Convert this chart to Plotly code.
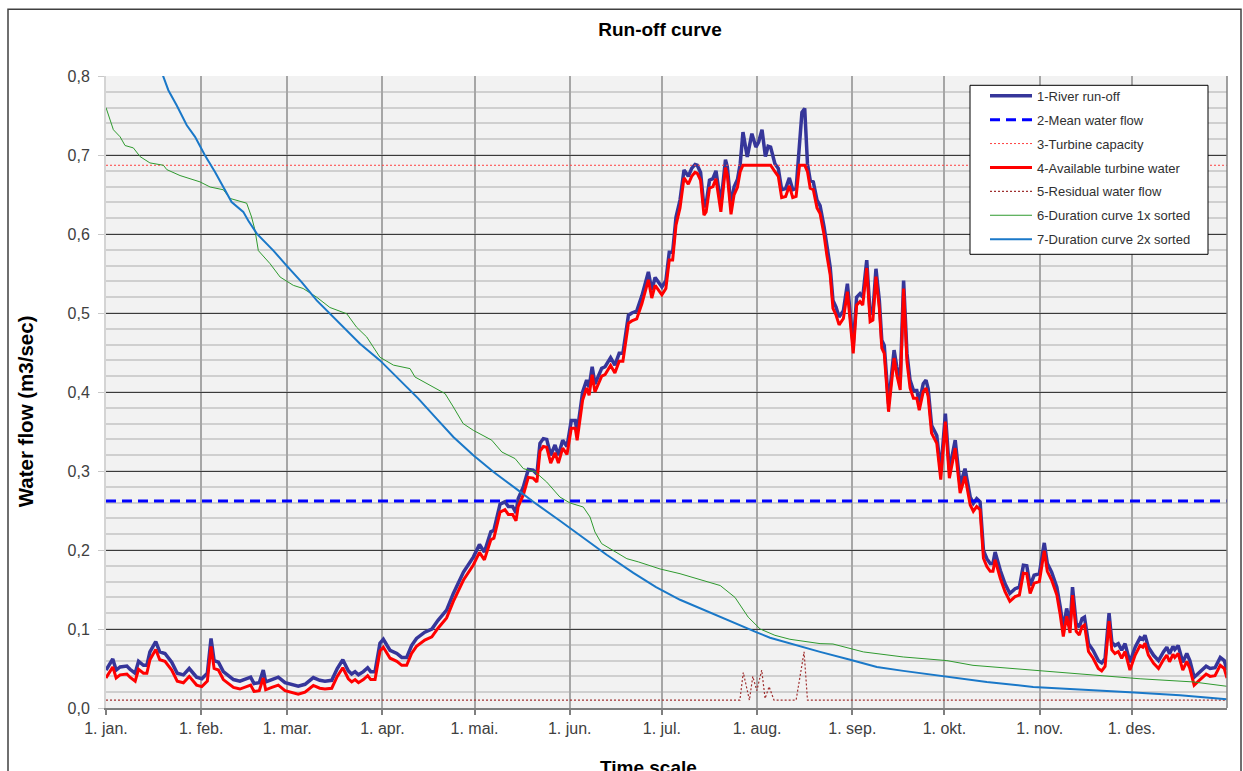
import numpy as np
import plotly.graph_objects as go

# ---- data -------------------------------------------------------------
# day of year (0 = 1 January) and daily river run-off in m3/sec
RUNOFF_DAY = [
    0, 2.2, 3.3, 4.6, 6.8, 7.8, 9.5, 10.6, 12.2, 13.3, 14.3, 16.2, 17.5, 19.2, 21.4,
    23.2, 25.2, 27.1, 29.5, 31.2, 33.0, 34.2, 35.2, 36.6, 38.2, 39.9, 41.5, 43.6, 45.2,
    47.1, 48.2, 49.9, 51.2, 52.0, 54.0, 56.1, 58.3, 60.5, 62.6, 64.8, 67.5, 69.6, 71.3,
    73.5, 75.3, 77.1, 78.9, 80.0, 81.1, 82.2, 83.8, 85.2, 86.2, 87.6, 89.2, 90.3, 92.5,
    94.7, 96.3, 97.9, 99.5, 101.1, 103.8, 106.1, 108.1, 110.9, 113.1, 116.4, 119.6,
    121.6, 123.2, 125.3, 126.3, 128.3, 129.9, 131.0, 132.4, 133.5, 134.2, 135.9, 137.5,
    139.1, 140.3, 141.3, 142.4, 143.5, 144.8, 146.2, 147.3, 148.7, 150.1, 151.5, 152.8,
    153.4, 155.2, 156.5, 157.3, 158.3, 159.2, 161.4, 162.5, 164.3, 165.7, 167.1, 168.3,
    170.1, 171.2, 172.8, 174.5, 176.6, 177.7, 178.8, 181.0, 182.3, 183.4, 184.5, 185.6,
    186.9, 188.2, 189.6, 190.7, 191.8, 192.5, 193.6, 194.7, 195.4, 196.5, 197.6, 198.6,
    200.2, 201.7, 202.3, 203.5, 204.5, 205.6, 206.5, 207.4, 208.8, 210.3, 211.6, 212.5,
    213.6, 214.7, 215.6, 216.4, 217.8, 218.9, 220.0, 221.3, 222.5, 223.6, 224.7, 225.8,
    226.6, 227.5, 228.4, 229.3, 230.3, 231.5, 232.5, 233.8, 234.7, 235.8, 236.7, 237.7,
    238.7, 240.1, 241.4, 242.5, 243.3, 244.4, 245.5, 246.4, 247.7, 248.8, 249.7, 250.7,
    251.8, 252.6, 253.4, 254.8, 256.6, 257.5, 258.6, 259.7, 260.8, 261.8, 262.9, 264.0,
    264.8, 266.1, 267.0, 267.7, 268.8, 270.5, 271.8, 273.3, 274.6, 276.5, 278.1, 279.7,
    281.4, 282.4, 283.5, 284.6, 285.7, 286.8, 287.9, 288.8, 289.5, 291.2, 292.7, 294.3,
    296.0, 297.4, 298.7, 299.8, 300.9, 302.2, 303.9, 305.5, 306.5, 307.9, 309.6, 310.7,
    311.7, 312.8, 313.9, 314.7, 315.9, 316.9, 317.8, 318.6, 319.9, 321.4, 323.1, 324.2,
    325.3, 326.6, 327.5, 328.5, 329.6, 330.7, 331.8, 333.4, 335.1, 336.7, 337.6, 338.3,
    339.4, 341.1, 342.7, 344.3, 345.4, 346.3, 347.4, 348.0, 349.1, 350.6, 351.9, 352.9,
    354.3, 355.7, 358.2, 359.5, 361.1, 362.8, 364.1, 365.0,
]
RUNOFF_FLOW = [
    0.048, 0.062, 0.048, 0.052, 0.053, 0.049, 0.044, 0.059, 0.054, 0.054, 0.071, 0.084, 0.071, 0.069, 0.058,
    0.044, 0.042, 0.050, 0.039, 0.037, 0.044, 0.088, 0.060, 0.058, 0.046, 0.041, 0.036, 0.034, 0.036,
    0.039, 0.031, 0.032, 0.048, 0.033, 0.036, 0.039, 0.032, 0.030, 0.0275, 0.030, 0.0385, 0.035, 0.034,
    0.035, 0.050, 0.061, 0.047, 0.043, 0.046, 0.042, 0.046, 0.051, 0.046, 0.046, 0.082, 0.087, 0.073,
    0.069, 0.064, 0.064, 0.079, 0.088, 0.096, 0.100, 0.111, 0.124, 0.145, 0.172, 0.191,
    0.207, 0.1975, 0.223, 0.225, 0.258, 0.261, 0.255, 0.255, 0.247, 0.265, 0.280, 0.302,
    0.301, 0.296, 0.335, 0.341, 0.340, 0.320, 0.333, 0.320, 0.339, 0.331, 0.364, 0.364,
    0.349, 0.400, 0.415, 0.406, 0.432, 0.410, 0.430, 0.432, 0.4435, 0.434, 0.449, 0.449,
    0.497, 0.500, 0.5025, 0.522, 0.552, 0.529, 0.545, 0.533, 0.541, 0.577, 0.577, 0.6215,
    0.643, 0.681, 0.673, 0.683, 0.688, 0.687, 0.678, 0.634, 0.638, 0.668, 0.670, 0.680,
    0.638, 0.694, 0.685, 0.635, 0.6595, 0.669, 0.689, 0.729, 0.6975, 0.727, 0.710, 0.7165,
    0.732, 0.698, 0.711, 0.710, 0.689, 0.683, 0.656, 0.6575, 0.671, 0.656, 0.6575, 0.723,
    0.754, 0.759, 0.689, 0.668, 0.666, 0.643, 0.636, 0.609, 0.5835, 0.558, 0.516, 0.5075,
    0.495, 0.503, 0.537, 0.4865, 0.459, 0.520, 0.5245, 0.520, 0.567, 0.499, 0.501, 0.556,
    0.516, 0.4655, 0.459, 0.385, 0.453, 0.4315, 0.4125, 0.541, 0.4485, 0.415, 0.402, 0.402,
    0.387, 0.4105, 0.415, 0.404, 0.358, 0.345, 0.299, 0.3725, 0.301, 0.339, 0.282, 0.303,
    0.267, 0.259, 0.265, 0.261, 0.1996, 0.189, 0.183, 0.183, 0.1975, 0.174, 0.1575, 0.145,
    0.151, 0.153, 0.1806, 0.180, 0.155, 0.168, 0.170, 0.209, 0.183, 0.172, 0.153, 0.128,
    0.1005, 0.126, 0.105, 0.153, 0.107, 0.1025, 0.113, 0.115, 0.0815, 0.073, 0.060, 0.057,
    0.0625, 0.120, 0.0835, 0.079, 0.0815, 0.073, 0.0815, 0.058, 0.077, 0.089, 0.087, 0.092,
    0.077, 0.0667, 0.060, 0.071, 0.077, 0.0685, 0.078, 0.074, 0.079, 0.058, 0.069, 0.060,
    0.039, 0.044, 0.053, 0.050, 0.051, 0.064, 0.060, 0.048,
]

MEAN_FLOW = 0.262          # m3/sec
TURBINE_CAPACITY = 0.687   # m3/sec
RESIDUAL_BASE = 0.01       # m3/sec kept in the river

RESIDUAL_DAY = [0, 206.4, 207.5, 209.5, 210.6, 211.9, 213.5, 214.6, 215.9, 217.5,
                224.7, 227.3, 228.4, 365]
RESIDUAL_FLOW = [0.01, 0.01, 0.045, 0.01, 0.040, 0.022, 0.048, 0.012, 0.027, 0.01,
                 0.01, 0.071, 0.01, 0.01]

DUR1_DAY = [0, 2.4, 4.6, 6.2, 8.9, 11.1, 14.3, 18.7, 19.8, 24.1, 30.6, 33.9, 38.2, 40.4,
            45.8, 47.4, 48.5, 49.6, 53.4, 56.7, 61.0, 64.2, 68.6, 72.9, 78.4, 81.6, 84.9,
            89.2, 93.6, 99.0, 100.6, 105.5, 108.8, 110.4, 113.1, 116.3, 119.6, 125.6,
            128.9, 133.2, 135.9, 139.7, 143.5, 147.8, 151.1, 155.4, 157.6, 159.2, 161.4,
            165.2, 169.6, 173.3, 180.4, 186.9, 193.4, 200.0, 204.8, 209.1, 213.0, 217.8,
            222.7, 232.5, 236.7, 246.6, 259.6, 273.8, 282.3, 301.9, 323.7, 336.7, 354.0,
            364.9]
DUR1_FLOW = [0.760, 0.732, 0.723, 0.712, 0.709, 0.698, 0.690, 0.687, 0.6815, 0.674,
             0.666, 0.6595, 0.656, 0.645, 0.639, 0.6215, 0.605, 0.579, 0.5625, 0.5455,
             0.535, 0.531, 0.520, 0.507, 0.499, 0.482, 0.4696, 0.444, 0.434, 0.4296,
             0.419, 0.4085, 0.402, 0.398, 0.381, 0.360, 0.3515, 0.339, 0.324, 0.3157,
             0.303, 0.299, 0.286, 0.267, 0.2595, 0.2544, 0.2418, 0.2228, 0.208, 0.1996,
             0.189, 0.185, 0.176, 0.170, 0.163, 0.155, 0.140, 0.115, 0.100, 0.092, 0.087,
             0.0815, 0.081, 0.071, 0.0646, 0.060, 0.054, 0.0477, 0.0414, 0.037, 0.033,
             0.0275]

DUR2_DAY = [18.5, 20.3, 23.0, 26.3, 29.0, 32.2, 35.5, 38.7, 40.9, 44.7, 46.3, 49.1, 54.5,
            58.8, 63.7, 68.6, 76.2, 82.7, 89.2, 93.6, 101.7, 107.7, 113.1, 119.6, 126.1,
            133.7, 140.2, 147.8, 156.5, 163.0, 171.7, 179.1, 186.9, 193.4, 200.0, 206.5,
            211.7, 216.2, 226.0, 232.5, 242.3, 251.0, 259.6, 272.7, 286.8, 301.9, 319.3,
            333.4, 349.7, 364.9]
DUR2_FLOW = [0.801, 0.782, 0.763, 0.7376, 0.723, 0.6996, 0.6785, 0.655, 0.6405, 0.628,
             0.617, 0.6005, 0.579, 0.560, 0.539, 0.516, 0.4866, 0.461, 0.440, 0.423,
             0.3916, 0.366, 0.343, 0.320, 0.299, 0.277, 0.258, 0.237, 0.212, 0.194,
             0.171, 0.153, 0.137, 0.126, 0.115, 0.104, 0.096, 0.089, 0.078, 0.071, 0.061,
             0.052, 0.047, 0.040, 0.033, 0.0266, 0.0233, 0.020, 0.016, 0.011]

MONTH_START_DAY = [0, 31, 59, 90, 120, 151, 181, 212, 243, 273, 304, 334]
MONTH_LABELS = ["1. jan.", "1. feb.", "1. mar.", "1. apr.", "1. mai.", "1. jun.",
                "1. jul.", "1. aug.", "1. sep.", "1. okt.", "1. nov.", "1. des."]
Y_TICKS = [0.0, 0.1, 0.2, 0.3, 0.4, 0.5, 0.6, 0.7, 0.8]
Y_LABELS = ["0,0", "0,1", "0,2", "0,3", "0,4", "0,5", "0,6", "0,7", "0,8"]

# water available for the turbine: run-off minus residual flow, limited by capacity
runoff = np.array(RUNOFF_FLOW)
available = np.minimum(runoff - RESIDUAL_BASE, TURBINE_CAPACITY)

FONT = "Liberation Sans, Arial, sans-serif"

# plot area in pixels (used for paper-coordinate placement of extras)
PL, PR, PT, PB = 106, 1227, 75.7, 707.7


def px_x(px):
    return (px - PL) / (PR - PL)


def px_y(py):
    return (PB - py) / (PB - PT)


fig = go.Figure()
fig.add_trace(go.Scatter(x=RUNOFF_DAY, y=RUNOFF_FLOW, mode="lines", name="1-River run-off",
                         line=dict(color="#36369a", width=3.5), legendgroup="1"))
fig.add_trace(go.Scatter(x=[0, 365], y=[MEAN_FLOW, MEAN_FLOW], mode="lines",
                         name="2-Mean water flow", legendgroup="2",
                         line=dict(color="#0000ff", width=3, dash="10px,6px")))
fig.add_trace(go.Scatter(x=[0, 365], y=[TURBINE_CAPACITY, TURBINE_CAPACITY], mode="lines",
                         name="3-Turbine capacity", legendgroup="3",
                         line=dict(color="#ff4040", width=1, dash="2px,2px")))
fig.add_trace(go.Scatter(x=RUNOFF_DAY, y=available, mode="lines",
                         name="4-Available turbine water", legendgroup="4",
                         line=dict(color="#ff0000", width=3)))
fig.add_trace(go.Scatter(x=RESIDUAL_DAY, y=RESIDUAL_FLOW, mode="lines",
                         name="5-Residual water flow", legendgroup="5",
                         line=dict(color="#a03030", width=1.2, dash="2px,2px")))
fig.add_trace(go.Scatter(x=DUR1_DAY, y=DUR1_FLOW, mode="lines",
                         name="6-Duration curve 1x sorted", legendgroup="6",
                         line=dict(color="#2f9a2f", width=1)))
fig.add_trace(go.Scatter(x=DUR2_DAY, y=DUR2_FLOW, mode="lines",
                         name="7-Duration curve 2x sorted", legendgroup="7",
                         line=dict(color="#1a78c8", width=2)))

fig.update_layout(
    width=1243, height=771,
    margin=dict(l=106, r=16, t=76, b=63),
    paper_bgcolor="white", plot_bgcolor="#f2f2f2",
    font=dict(family=FONT, size=16, color="#404040"),
    showlegend=True,
    title=dict(text="<b>Run-off curve</b>", x=660 / 1243, xref="container", xanchor="center",
               y=1 - 29 / 771, yref="container", yanchor="middle",
               font=dict(family=FONT, size=19, color="black")),
    legend=dict(x=px_x(985), y=px_y(80.5), xanchor="left", yanchor="top",
                bgcolor="rgba(0,0,0,0)", borderwidth=0,
                font=dict(family=FONT, size=13, color="#303030"),
                traceorder="grouped", tracegroupgap=4, itemwidth=42),
    hovermode=False,
)

fig.update_xaxes(range=[0, 365], tickmode="array", tickvals=MONTH_START_DAY,
                 ticktext=MONTH_LABELS, showgrid=True, gridcolor="#a6a6a6", gridwidth=1.5,
                 ticks="outside", ticklen=5, tickcolor="#7f7f7f", tickwidth=1.5,
                 showline=True, linecolor="#7f7f7f", linewidth=2, zeroline=False,
                 tickfont=dict(family=FONT, size=16, color="#404040"))
fig.update_yaxes(range=[0, 0.8], tickmode="array", tickvals=Y_TICKS, ticktext=Y_LABELS,
                 showgrid=True, gridcolor="#3a3a3a", gridwidth=1.2,
                 minor=dict(dtick=0.02, showgrid=True, gridcolor="#cfcfcf", gridwidth=1.5),
                 ticks="outside", ticklen=6, tickcolor="#c8c8c8", tickwidth=1,
                 ticklabelstandoff=5,
                 showline=True, linecolor="#d4d4d4", linewidth=2, zeroline=False,
                 tickfont=dict(family=FONT, size=16, color="#404040"))

# right border of the plot area
fig.add_shape(type="line", xref="paper", yref="paper", x0=1, x1=1, y0=0, y1=1,
              line=dict(color="#808080", width=1.5))
# legend box
fig.add_shape(type="rect", xref="paper", yref="paper",
              x0=px_x(970), x1=px_x(1208), y0=px_y(254), y1=px_y(85),
              line=dict(color="black", width=1), fillcolor="white", layer="above")
# outer frame of the chart
fig.add_shape(type="rect", xref="paper", yref="paper",
              x0=px_x(8), x1=px_x(1241), y0=px_y(800), y1=px_y(9),
              line=dict(color="#404040", width=1.5), fillcolor="rgba(0,0,0,0)", layer="above")

fig.add_annotation(text="<b>Water flow (m3/sec)</b>", xref="paper", yref="paper",
                   x=px_x(25), y=px_y(411), textangle=-90,
                   showarrow=False, xanchor="center", yanchor="middle",
                   font=dict(family=FONT, size=20.5, color="black"))
fig.add_annotation(text="<b>Time scale</b>", xref="paper", yref="paper",
                   x=px_x(648), y=px_y(767),
                   showarrow=False, xanchor="center", yanchor="middle",
                   font=dict(family=FONT, size=19, color="black"))

fig.write_html("out.html", config={"displayModeBar": False})
